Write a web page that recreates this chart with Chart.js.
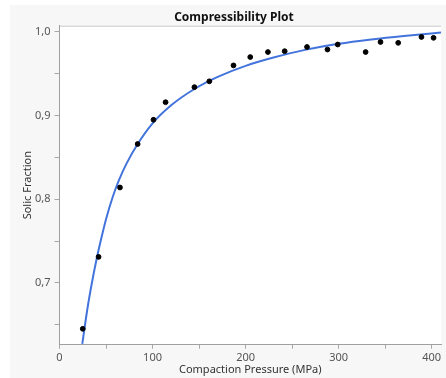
<!DOCTYPE html>
<html>
<head>
<meta charset="utf-8">
<script src="https://cdn.jsdelivr.net/npm/chart.js@4"></script>
<style>
  html, body { margin: 0; padding: 0; background: #ffffff; }
  #wrap { position: relative; width: 446px; height: 378px; }
</style>
</head>
<body>
<div id="wrap"><canvas id="chart" width="446" height="378"></canvas></div>
<script>
// measured points
const pressure = [25, 42, 65, 84, 101, 114, 145, 161, 187, 205, 224, 242, 266, 288, 299, 329, 345, 364, 389, 402];
const solidFraction = [0.645, 0.731, 0.814, 0.866, 0.895, 0.916, 0.934, 0.941, 0.960, 0.970, 0.976, 0.977, 0.982, 0.979, 0.985, 0.976, 0.988, 0.987, 0.994, 0.993];

// fitted curve
const fitPressure = [24.5, 30, 35, 40, 45, 50, 57, 64, 72, 84, 100, 120, 145, 170, 200, 230, 265, 300, 335, 370, 410];
const fitFraction = [0.627, 0.669, 0.701, 0.729, 0.7535, 0.776, 0.802, 0.823, 0.8425, 0.866, 0.8907, 0.9123, 0.9318, 0.9463, 0.9595, 0.9694, 0.9789, 0.9859, 0.9911, 0.9953, 0.9993];

const xTicks = [0, 50, 100, 150, 200, 250, 300, 350, 400];
const xLabels = [0, 100, 200, 300, 400];
const yTicks = [0.65, 0.7, 0.75, 0.8, 0.85, 0.9, 0.95, 1.0];
const yLabels = [0.7, 0.8, 0.9, 1.0];

const tickFont = { family: "'Segoe UI', 'Noto Sans', sans-serif", size: 11 };
const tickGray = "#555555";

// gray panel + white plot area with a thin top border
const panel = {
  id: "panel",
  beforeDraw(chart) {
    const { ctx, chartArea: a } = chart;
    ctx.save();
    ctx.fillStyle = "#f7f7f7";
    ctx.fillRect(10, 5, 436, 373);
    ctx.fillStyle = "#ffffff";
    ctx.fillRect(a.left, a.top, a.right - a.left, a.bottom - a.top);
    ctx.strokeStyle = "#c8c8c8";
    ctx.lineWidth = 1;
    ctx.beginPath();
    ctx.moveTo(a.left, a.top + 0.5);
    ctx.lineTo(a.right, a.top + 0.5);
    ctx.stroke();
    ctx.restore();
  }
};

new Chart(document.getElementById("chart").getContext("2d"), {
  type: "scatter",
  data: {
    datasets: [
      {
        type: "line",
        label: "Fit",
        data: fitPressure.map((x, i) => ({ x: x, y: fitFraction[i] })),
        borderColor: "#4374dc",
        borderWidth: 2,
        pointRadius: 0,
        fill: false,
        cubicInterpolationMode: "monotone",
        order: 2
      },
      {
        label: "Solid Fraction",
        data: pressure.map((x, i) => ({ x: x, y: solidFraction[i] })),
        backgroundColor: "#000000",
        borderColor: "#000000",
        pointRadius: 2.4,
        order: 1
      }
    ]
  },
  options: {
    responsive: false,
    animation: false,
    layout: { padding: { left: 22, right: 0, top: 0, bottom: 0 } },
    plugins: {
      legend: { display: false },
      tooltip: { enabled: false },
      title: {
        display: true,
        text: "Compressibility Plot",
        color: "#111111",
        font: { family: "'Segoe UI', 'Noto Sans', sans-serif", size: 12, weight: "bold" },
        padding: { top: 10, bottom: 1.3 }
      }
    },
    scales: {
      x: {
        type: "linear",
        min: 0,
        max: 410,
        afterBuildTicks: (axis) => { axis.ticks = xTicks.map((v) => ({ value: v })); },
        afterFit: (s) => { s.height = 33.3; },
        ticks: {
          autoSkip: false,
          maxRotation: 0,
          padding: 3,
          color: tickGray,
          font: tickFont,
          callback: (v) => (xLabels.includes(v) ? String(v) : "")
        },
        grid: { drawOnChartArea: false, drawTicks: true, tickLength: 4, tickColor: "#a8a8a8" },
        border: { color: "#a0a0a0", width: 1 },
        title: {
          display: true,
          text: "Compaction Pressure (MPa)",
          color: "#333333",
          font: tickFont,
          padding: { top: 0, bottom: 1.4 }
        }
      },
      y: {
        type: "linear",
        min: 0.626,
        max: 1.0075,
        afterBuildTicks: (axis) => { axis.ticks = yTicks.map((v) => ({ value: v })); },
        afterFit: (s) => { s.width = 37.5; },
        ticks: {
          autoSkip: false,
          padding: 4,
          color: tickGray,
          font: tickFont,
          callback: (v) => {
            const hit = yLabels.find((l) => Math.abs(l - v) < 1e-6);
            return hit === undefined ? "" : hit.toFixed(1).replace(".", ",");
          }
        },
        grid: { drawOnChartArea: false, drawTicks: true, tickLength: 5, tickColor: "#a8a8a8" },
        border: { color: "#a0a0a0", width: 1 },
        title: {
          display: true,
          text: "Solic Fraction",
          color: "#333333",
          font: tickFont,
          padding: { top: -1, bottom: 0 }
        }
      }
    }
  },
  plugins: [panel]
});
</script>
</body>
</html>
